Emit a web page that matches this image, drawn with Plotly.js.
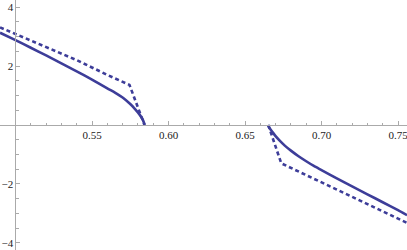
<!DOCTYPE html>
<html>
<head>
<meta charset="utf-8">
<script src="https://cdn.plot.ly/plotly-3.0.1.min.js"></script>
<style>html,body{margin:0;padding:0;background:#fff;}#chart{width:407px;height:250px;}</style>
</head>
<body>
<div id="chart"></div>
<script>
// Left branch, solid curve
const solidLeftX = [0.4899, 0.50, 0.51, 0.52, 0.53, 0.54, 0.55, 0.56, 0.565, 0.57, 0.575, 0.578, 0.581, 0.583, 0.5845];
const solidLeftY = [3.13, 2.88, 2.62, 2.36, 2.09, 1.82, 1.54, 1.24, 1.10, 0.93, 0.71, 0.55, 0.36, 0.20, 0.0];
// Left branch, dashed curve
const dashLeftX = [0.4899, 0.50, 0.52, 0.54, 0.56, 0.5745, 0.5843];
const dashLeftY = [3.31, 3.09, 2.65, 2.20, 1.70, 1.36, 0.0];
// Right branch, solid curve
const solidRightX = [0.6650, 0.666, 0.668, 0.670, 0.673, 0.676, 0.680, 0.685, 0.690, 0.695, 0.700, 0.710, 0.720, 0.730, 0.740, 0.750, 0.7559];
const solidRightY = [0.0, -0.10, -0.24, -0.38, -0.55, -0.70, -0.87, -1.06, -1.23, -1.39, -1.53, -1.81, -2.08, -2.35, -2.62, -2.89, -3.06];
// Right branch, dashed curve
const dashRightX = [0.6652, 0.6737, 0.7083, 0.7559];
const dashRightY = [0.0, -1.30, -2.15, -3.32];

const xTicks = [0.55, 0.60, 0.65, 0.70, 0.75];
const xTickText = ["0.55", "0.60", "0.65", "0.70", "0.75"];
const yTicks = [-4, -2, 2, 4];
const yTickText = ["\u22124", "\u22122", "2", "4"];

const col = '#3d3d99';
const xRange = [0.48987, 0.75588];
const yRange = [-4.24, 4.24];

const traces = [
  {x: solidLeftX, y: solidLeftY, mode: 'lines', line: {color: col, width: 2.6, shape: 'spline', smoothing: 0.6}},
  {x: dashLeftX, y: dashLeftY, mode: 'lines', line: {color: col, width: 2.6, dash: '4px,3px'}},
  {x: solidRightX, y: solidRightY, mode: 'lines', line: {color: col, width: 2.6, shape: 'spline', smoothing: 0.6}},
  {x: dashRightX, y: dashRightY, mode: 'lines', line: {color: col, width: 2.6, dash: '4px,3px'}}
];

const minorX = [];
for (let i = 51; i <= 75; i++) { if (i % 5) minorX.push(i / 100); }
const minorY = [];
for (let v = -4; v <= 4; v += 0.5) { if (v !== 0 && Math.abs(v) !== 2 && Math.abs(v) !== 4) minorY.push(v); }

const tf = {family: 'Liberation Serif', size: 11, color: '#222'};

const layout = {
  width: 407, height: 250,
  margin: {l: 0, r: 0, t: 0, b: 0},
  paper_bgcolor: '#fff', plot_bgcolor: '#fff',
  showlegend: false,
  font: tf,
  xaxis: {
    range: xRange, anchor: 'free', position: (0 - yRange[0]) / (yRange[1] - yRange[0]),
    showgrid: false, zeroline: false, showline: true, linecolor: '#aaa', linewidth: 1,
    tickmode: 'array', tickvals: xTicks, ticktext: xTickText, tickfont: tf,
    ticklabeloverflow: 'allow',
    ticks: 'inside', ticklen: 4, tickcolor: '#aaa', tickwidth: 1,
    minor: {tickmode: 'array', tickvals: minorX, ticks: 'inside', ticklen: 2.5, tickcolor: '#aaa', showgrid: false},
    automargin: false, fixedrange: true
  },
  yaxis: {
    range: yRange, anchor: 'free', position: (0.5 - xRange[0]) / (xRange[1] - xRange[0]),
    showgrid: false, zeroline: false, showline: true, linecolor: '#aaa', linewidth: 1,
    tickmode: 'array', tickvals: yTicks, ticktext: yTickText, tickfont: tf,
    ticklabeloverflow: 'allow',
    ticks: 'inside', ticklen: 4, tickcolor: '#aaa', tickwidth: 1,
    minor: {tickmode: 'array', tickvals: minorY, ticks: 'inside', ticklen: 2.5, tickcolor: '#aaa', showgrid: false},
    automargin: false, fixedrange: true
  }
};

Plotly.newPlot('chart', traces, layout, {staticPlot: true, displayModeBar: false});
</script>
</body>
</html>
